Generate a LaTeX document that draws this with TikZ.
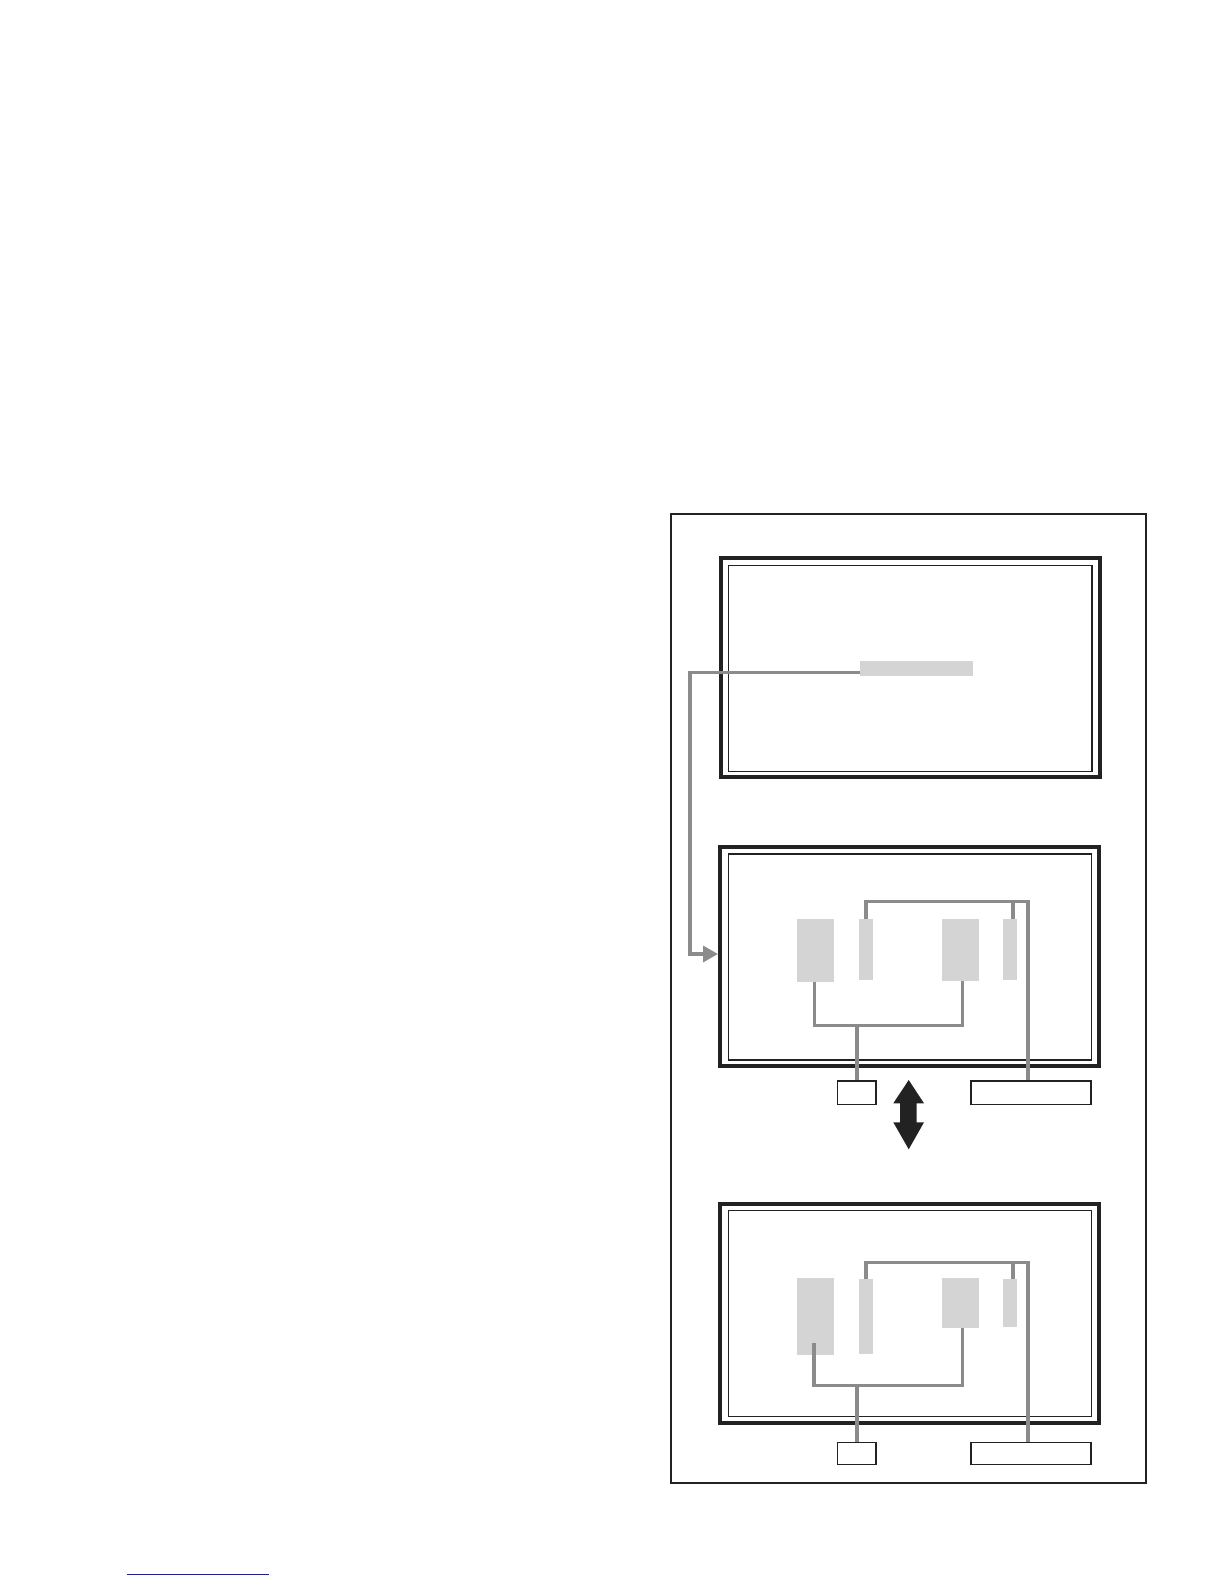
\documentclass[tikz,border=0pt]{standalone}
\usetikzlibrary{fit,calc,arrows.meta}
\definecolor{ink}{HTML}{222222}
\definecolor{wiregray}{HTML}{8A8C8C}
\definecolor{blockgray}{HTML}{D4D4D4}
\definecolor{linkblue}{HTML}{1F1F8F}
\tikzset{
  frame/.style={draw=ink, line width=1.1pt, inner sep=0pt, outer sep=0pt},
  tv/.style={draw=ink, line width=2pt, inner sep=0pt},
  screen/.style={draw=ink, line width=0.65pt, inner sep=0pt},
  block/.style={fill=blockgray, draw=none, inner sep=0pt, outer sep=0pt},
  label box/.style={draw=ink, fill=white, line width=0.8pt, inner sep=0pt},
  wire/.style={draw=wiregray, line width=1.65pt},
  bigarrow/.style={fill=ink, draw=none}
}
\begin{document}
\begin{tikzpicture}[x=0.5pt,y=-0.5pt]
\useasboundingbox (0,0) rectangle (1224,1584);

% outer frame
\node[frame, fit={(671,514) (1146,1483.3)}] (outer) {};

% ---------- top monitor ----------
\node[tv, fit={(721,558) (1099.7,777.3)}] (tv1) {};
\node[screen, fit={(728.3,565.3) (1092,771.3)}] (scr1) {};
\node[block, fit={(860,661) (973,676)}] (bar1) {};

% ---------- middle monitor ----------
\node[tv, fit={(720,847) (1098.7,1066.3)}] (tv2) {};
\node[screen, fit={(728.3,854) (1091.7,1060)}] (scr2) {};
\node[block, fit={(797,919.3) (833.7,981.7)}] (a2) {};
\node[block, fit={(859,919.3) (872.7,980)}] (b2) {};
\node[block, fit={(942.3,919.3) (979,980.7)}] (c2) {};
\node[block, fit={(1003,919.3) (1016.7,980)}] (d2) {};
\node[label box, fit={(837.3,1081) (875.7,1104.3)}] (l2) {};
\node[label box, fit={(971,1081) (1090.7,1104.3)}] (r2) {};

% ---------- bottom monitor ----------
\node[tv, fit={(720,1204.3) (1098.7,1422.7)}] (tv3) {};
\node[screen, fit={(728.3,1210.7) (1091.7,1416.3)}] (scr3) {};
\node[block, fit={(797,1278.3) (833.7,1354.7)}] (a3) {};
\node[block, fit={(859,1279.3) (872.7,1353.7)}] (b3) {};
\node[block, fit={(942.3,1278.3) (979,1327.7)}] (c3) {};
\node[block, fit={(1003,1279.3) (1016.7,1326.7)}] (d3) {};
\node[label box, fit={(837.3,1442.3) (875.7,1464.3)}] (l3) {};
\node[label box, fit={(971,1442.3) (1090.7,1464.3)}] (r3) {};

% ---------- connector from top bar to middle monitor ----------
\coordinate (barstart) at ($(bar1.west)+(0,4)$);
\coordinate (drop) at (690,954);
\draw[wire, -{Triangle[length=7.5pt,width=8pt]}]
  (barstart) -| (drop) -- (tv2.west |- drop);

% ---------- middle wiring ----------
\coordinate (t2) at (1028,901.7);
\coordinate (u2) at (857,1025.7);
\coordinate (a2b) at ($(a2.south)+(-1,0)$);
\coordinate (c2b) at ($(c2.south)+(2,0)$);
\coordinate (d2t) at ($(d2.north)+(3,0)$);
\draw[wire] (b2.north) |- (t2) -- (t2 |- r2.north);
\draw[wire] (d2t |- t2) -- (d2t);
\draw[wire] (a2b) |- (c2b |- u2) -- (c2b);
\draw[wire] (u2) -- (u2 |- l2.north);

% ---------- bottom wiring ----------
\coordinate (t3) at (1028,1262.7);
\coordinate (u3) at (857,1385.7);
\coordinate (a3in) at (814,1342.7);
\coordinate (c3b) at ($(c3.south)+(2,0)$);
\coordinate (d3t) at ($(d3.north)+(3,0)$);
\draw[wire] (b3.north) |- (t3) -- (t3 |- r3.north);
\draw[wire] (d3t |- t3) -- (d3t);
\draw[wire] (a3in) |- (c3b |- u3) -- (c3b);
\draw[wire] (u3) -- (u3 |- l3.north);

% ---------- double arrow ----------
\fill[bigarrow] (908.7,1080) -- (924,1103.3) -- (916.7,1103.3) -- (916.7,1122.3)
  -- (924,1122.3) -- (908.7,1149.3) -- (893.3,1122.3) -- (900,1122.3)
  -- (900,1103.3) -- (893.3,1103.3) -- cycle;

% ---------- blue rule at page foot ----------
\draw[linkblue, line width=0.6pt] (126.7,1574.7) -- (269,1574.7);
\end{tikzpicture}
\end{document}
